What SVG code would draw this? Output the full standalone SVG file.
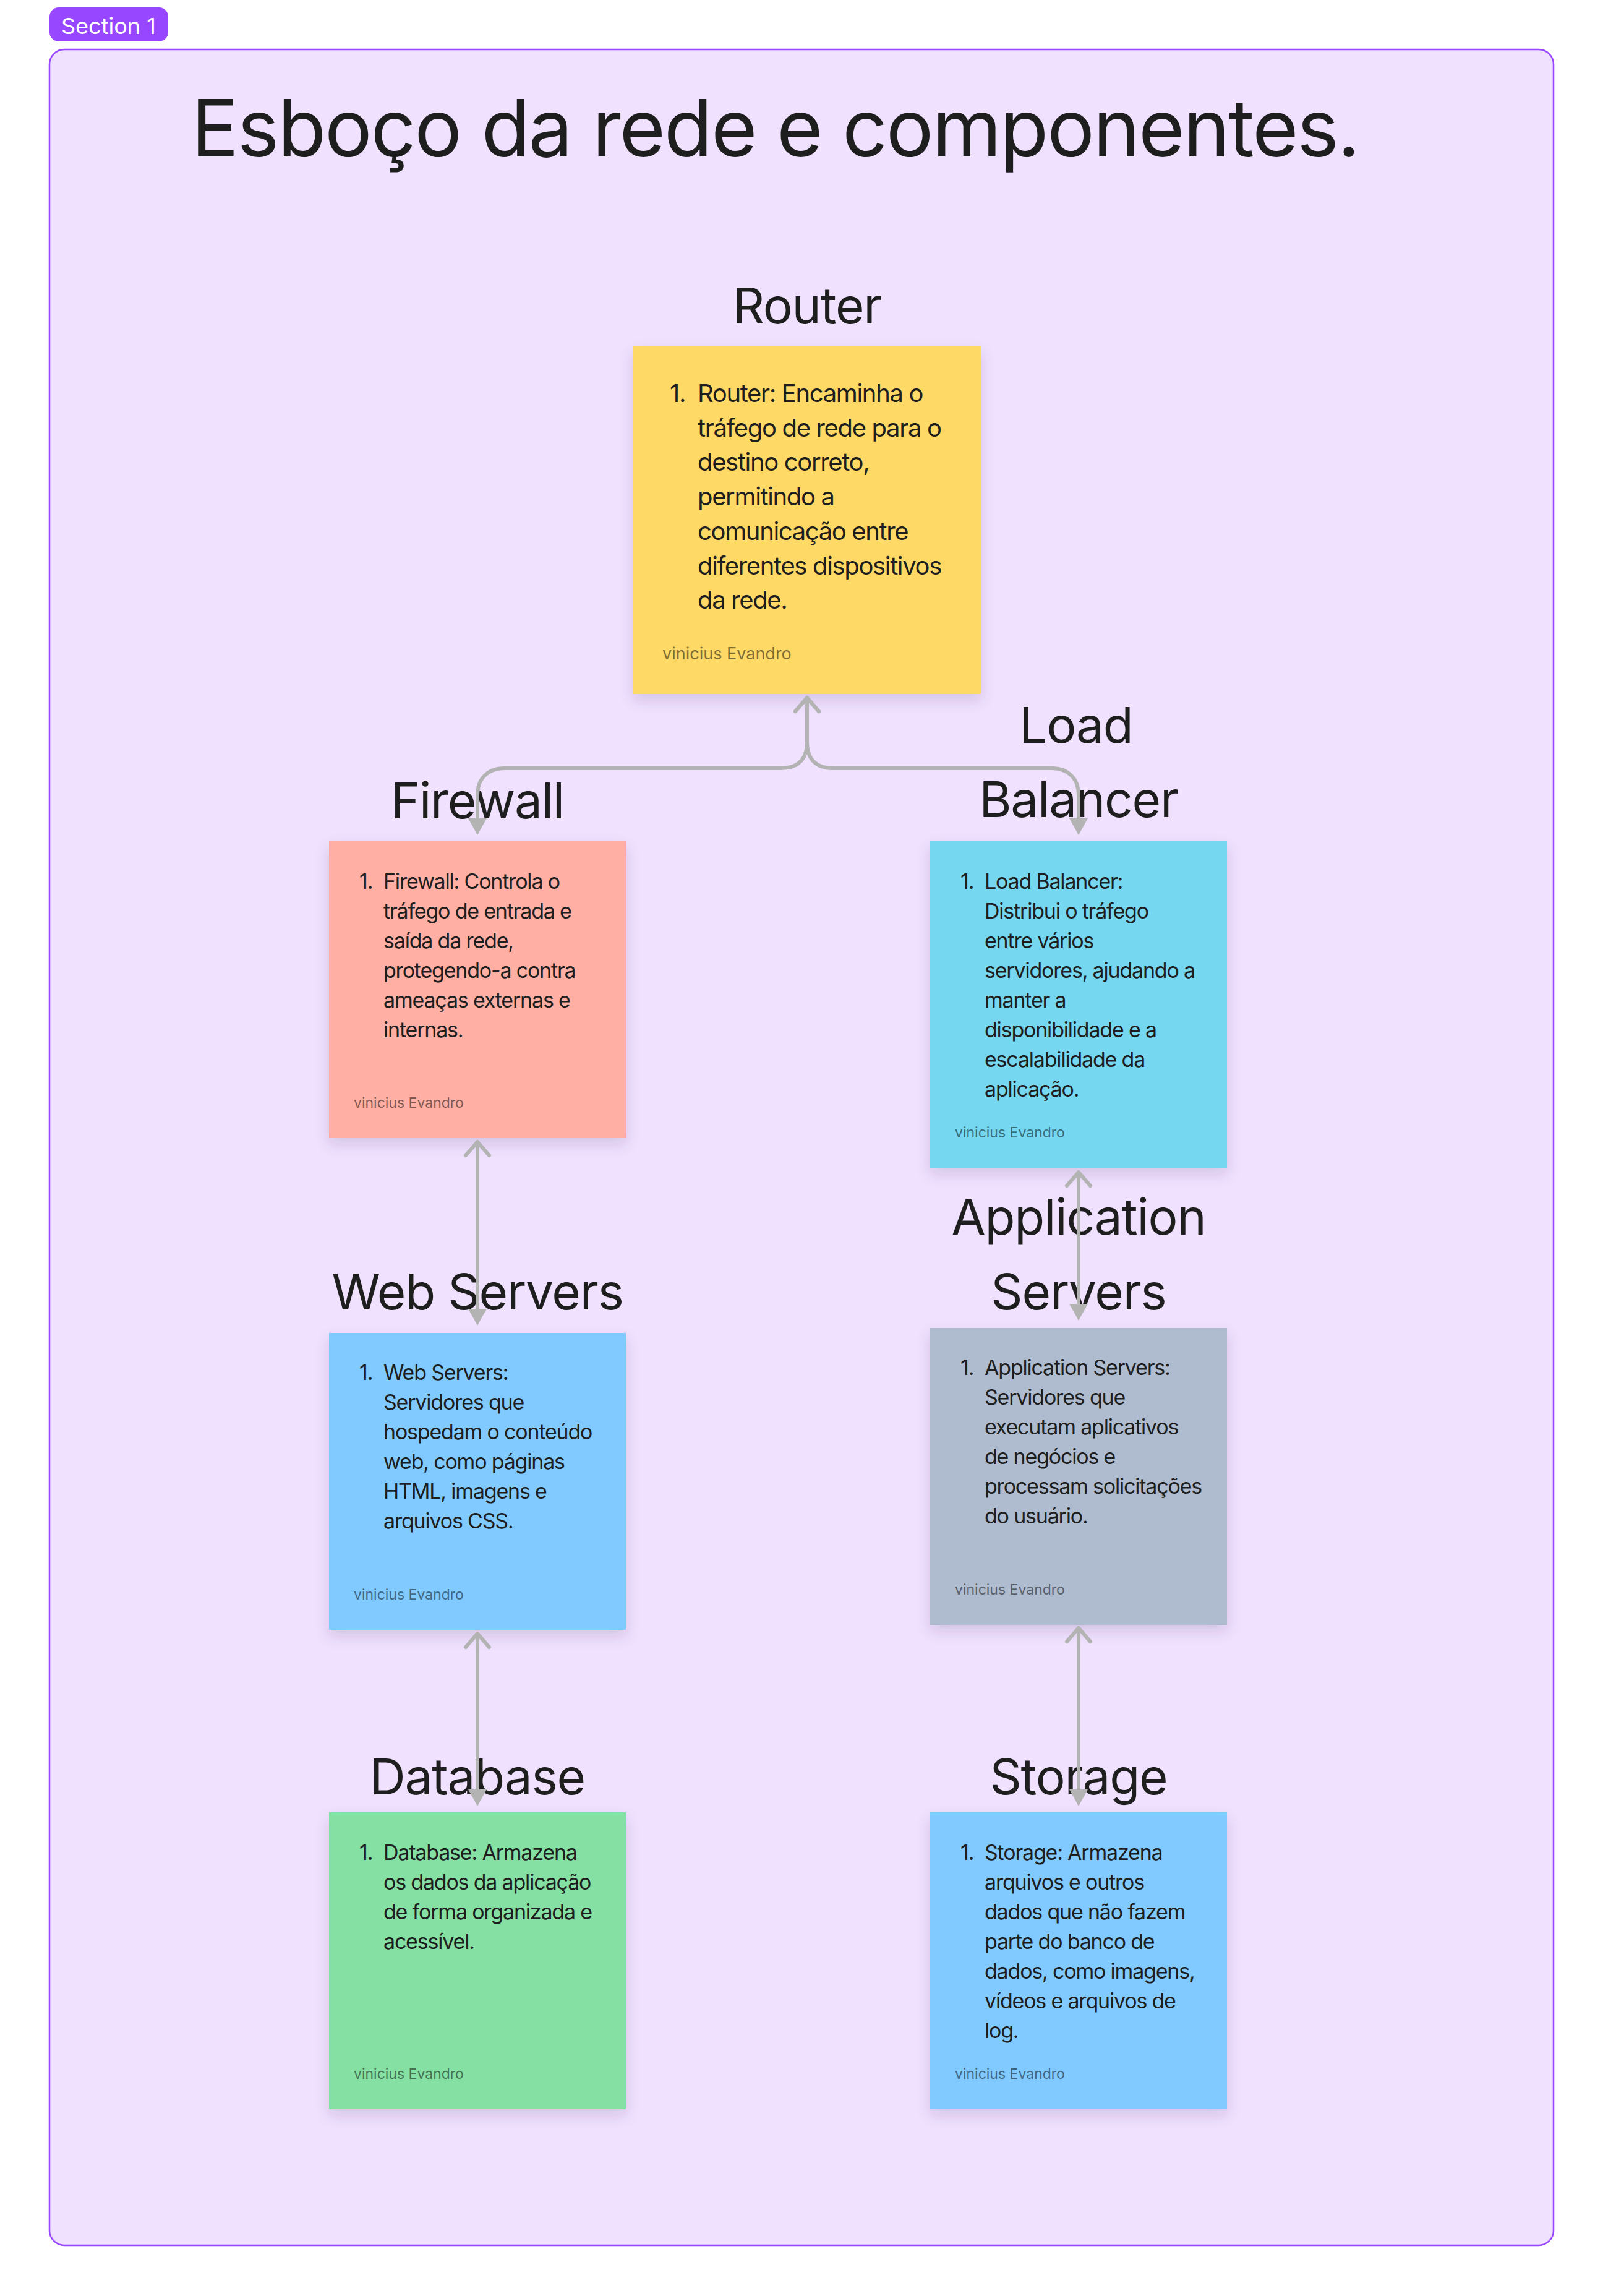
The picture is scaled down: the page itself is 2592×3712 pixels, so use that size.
<svg xmlns="http://www.w3.org/2000/svg" width="2592" height="3712" viewBox="0 0 2592 3712">
<style>
text{font-family:Inter,"Noto Sans","Liberation Sans",sans-serif;}
.title{font-size:128px;fill:#1E1E1E;letter-spacing:-2.3px;}
.lbl{font-size:80px;fill:#1E1E1E;text-anchor:middle;letter-spacing:-1.2px;}
.big{font-size:40px;fill:#1E1E1E;letter-spacing:-1.35px;}
.body{font-size:34px;fill:#1E1E1E;letter-spacing:-1.2px;}
.auth-big{font-size:27px;fill:#000;fill-opacity:0.5;}
.auth{font-size:23px;fill:#000;fill-opacity:0.5;}
.conn{fill:none;stroke:#B3B3B3;stroke-width:6;marker-start:url(#chev);marker-end:url(#tri);}
.sticky{filter:url(#sh);}
</style>
<defs>
<filter id="sh" x="-20%" y="-20%" width="140%" height="150%">
<feDropShadow dx="0" dy="10" stdDeviation="11" flood-color="#3a2a60" flood-opacity="0.16"/>
</filter>
<marker id="chev" markerUnits="userSpaceOnUse" viewBox="-30 -30 60 60" markerWidth="60" markerHeight="60" refX="0" refY="0" orient="auto-start-reverse" overflow="visible">
<path d="M-22,-19 L0,0 L-22,19" fill="none" stroke="#B3B3B3" stroke-width="6" stroke-linecap="round" stroke-linejoin="round"/>
</marker>
<marker id="tri" markerUnits="userSpaceOnUse" viewBox="-5 -20 40 40" markerWidth="40" markerHeight="40" refX="0" refY="0" orient="auto" overflow="visible">
<path d="M27,0 L0,-15 L0,15 Z" fill="#B3B3B3"/>
</marker>
</defs>
<rect width="2592" height="3712" fill="#FFFFFF"/>
<g id="section">
<rect x="80" y="80" width="2432" height="3550" rx="24" ry="24" fill="#F0E1FE" stroke="#9747FF" stroke-width="2.5"/>
<rect x="80" y="12" width="192" height="55" rx="15" ry="15" fill="#9747FF"/>
<text x="99" y="55" style="font-size:36px;fill:#FFFFFF;">Section 1</text>
<text class="title" x="309" y="253">Esboço da rede e componentes.</text>
</g>
<g id="node-router">
<text class="lbl" x="1305" y="523">Router</text>
<rect class="sticky" x="1024" y="560" width="562" height="562" fill="#FFD966"/>
<text class="big" x="1083" y="650">1.</text>
<text class="big"><tspan x="1128" y="650">Router: Encaminha o</tspan><tspan x="1128" y="705.7">tráfego de rede para o</tspan><tspan x="1128" y="761.4">destino correto,</tspan><tspan x="1128" y="817.1">permitindo a</tspan><tspan x="1128" y="872.8">comunicação entre</tspan><tspan x="1128" y="928.5">diferentes dispositivos</tspan><tspan x="1128" y="984.2">da rede.</tspan></text>
<text class="auth-big" x="1071" y="1066">vinicius Evandro</text>
</g>
<g id="node-firewall">
<text class="lbl" x="772" y="1323">Firewall</text>
<rect class="sticky" x="532" y="1360" width="480" height="480" fill="#FFAFA3"/>
<text class="body" x="581" y="1437">1.</text>
<text class="body"><tspan x="620" y="1437">Firewall: Controla o</tspan><tspan x="620" y="1485">tráfego de entrada e</tspan><tspan x="620" y="1533">saída da rede,</tspan><tspan x="620" y="1581">protegendo-a contra</tspan><tspan x="620" y="1629">ameaças externas e</tspan><tspan x="620" y="1677">internas.</tspan></text>
<text class="auth" x="572" y="1791">vinicius Evandro</text>
</g>
<g id="node-loadbalancer">
<text class="lbl"><tspan x="1740" y="1201">Load</tspan><tspan x="1744" y="1321">Balancer</tspan></text>
<rect class="sticky" x="1504" y="1360" width="480" height="528" fill="#75D7F0"/>
<text class="body" x="1553" y="1437">1.</text>
<text class="body"><tspan x="1592" y="1437">Load Balancer:</tspan><tspan x="1592" y="1485">Distribui o tráfego</tspan><tspan x="1592" y="1533">entre vários</tspan><tspan x="1592" y="1581">servidores, ajudando a</tspan><tspan x="1592" y="1629">manter a</tspan><tspan x="1592" y="1677">disponibilidade e a</tspan><tspan x="1592" y="1725">escalabilidade da</tspan><tspan x="1592" y="1773">aplicação.</tspan></text>
<text class="auth" x="1544" y="1839">vinicius Evandro</text>
</g>
<g id="node-webservers">
<text class="lbl" x="772" y="2117">Web Servers</text>
<rect class="sticky" x="532" y="2155" width="480" height="480" fill="#80CAFF"/>
<text class="body" x="581" y="2231">1.</text>
<text class="body"><tspan x="620" y="2231">Web Servers:</tspan><tspan x="620" y="2279">Servidores que</tspan><tspan x="620" y="2327">hospedam o conteúdo</tspan><tspan x="620" y="2375">web, como páginas</tspan><tspan x="620" y="2423">HTML, imagens e</tspan><tspan x="620" y="2471">arquivos CSS.</tspan></text>
<text class="auth" x="572" y="2586">vinicius Evandro</text>
</g>
<g id="node-appservers">
<text class="lbl"><tspan x="1744" y="1996">Application</tspan><tspan x="1744" y="2117">Servers</tspan></text>
<rect class="sticky" x="1504" y="2147" width="480" height="480" fill="#AFBCCF"/>
<text class="body" x="1553" y="2223">1.</text>
<text class="body"><tspan x="1592" y="2223">Application Servers:</tspan><tspan x="1592" y="2271">Servidores que</tspan><tspan x="1592" y="2319">executam aplicativos</tspan><tspan x="1592" y="2367">de negócios e</tspan><tspan x="1592" y="2415">processam solicitações</tspan><tspan x="1592" y="2463">do usuário.</tspan></text>
<text class="auth" x="1544" y="2578">vinicius Evandro</text>
</g>
<g id="node-database">
<text class="lbl" x="772" y="2901">Database</text>
<rect class="sticky" x="532" y="2930" width="480" height="480" fill="#85E0A3"/>
<text class="body" x="581" y="3007">1.</text>
<text class="body"><tspan x="620" y="3007">Database: Armazena</tspan><tspan x="620" y="3055">os dados da aplicação</tspan><tspan x="620" y="3103">de forma organizada e</tspan><tspan x="620" y="3151">acessível.</tspan></text>
<text class="auth" x="572" y="3361">vinicius Evandro</text>
</g>
<g id="node-storage">
<text class="lbl" x="1744" y="2901">Storage</text>
<rect class="sticky" x="1504" y="2930" width="480" height="480" fill="#80CAFF"/>
<text class="body" x="1553" y="3007">1.</text>
<text class="body"><tspan x="1592" y="3007">Storage: Armazena</tspan><tspan x="1592" y="3055">arquivos e outros</tspan><tspan x="1592" y="3103">dados que não fazem</tspan><tspan x="1592" y="3151">parte do banco de</tspan><tspan x="1592" y="3199">dados, como imagens,</tspan><tspan x="1592" y="3247">vídeos e arquivos de</tspan><tspan x="1592" y="3295">log.</tspan></text>
<text class="auth" x="1544" y="3361">vinicius Evandro</text>
</g>
<g id="connectors">
<path class="conn" d="M1305,1128 V1200 C1305,1228 1290,1242 1262,1242 H815 C790,1242 772,1258 772,1285 V1323"/>
<path class="conn" d="M1305,1128 V1200 C1305,1228 1320,1242 1348,1242 H1701 C1726,1242 1744,1258 1744,1285 V1323"/>
<path class="conn" d="M772,1846 V2116"/>
<path class="conn" d="M1744,1895 V2108"/>
<path class="conn" d="M772,2641 V2893"/>
<path class="conn" d="M1744,2632 V2893"/>
</g>
</svg>
